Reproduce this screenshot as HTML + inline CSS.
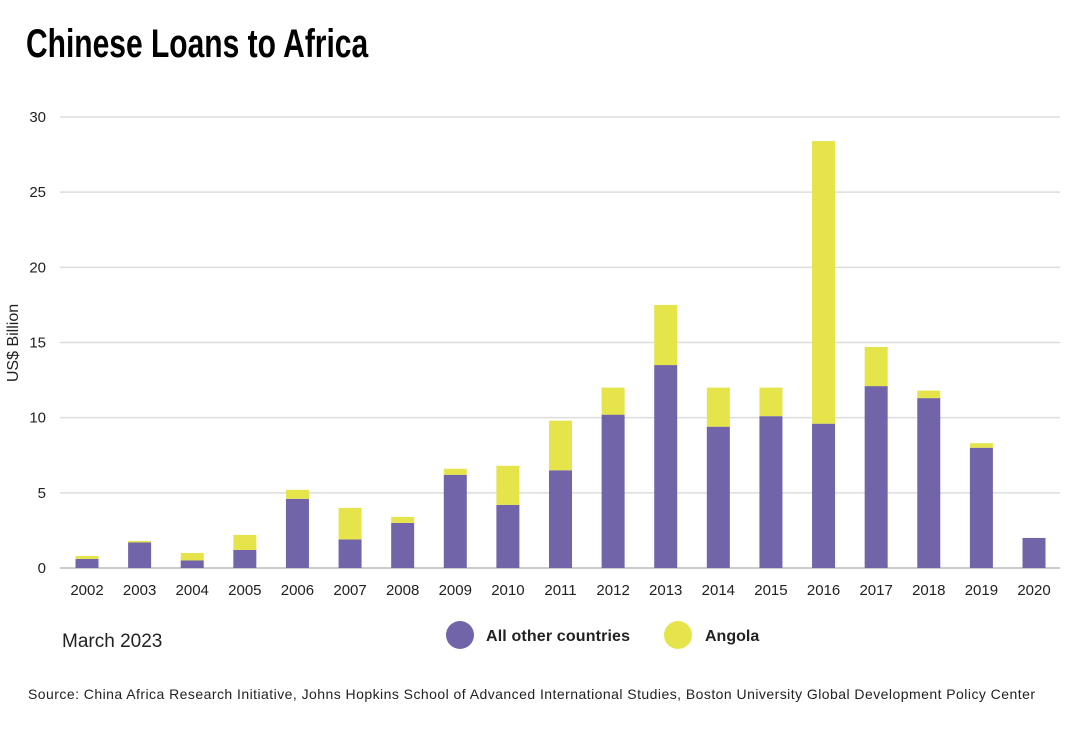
<!DOCTYPE html>
<html><head><meta charset="utf-8"><style>
body{margin:0;background:#fff;width:1080px;height:724px;overflow:hidden;font-family:"Liberation Sans",sans-serif}
svg text{font-family:"Liberation Sans",sans-serif}
</style></head><body>
<svg id="chart" width="1080" height="724">
<text x="26" y="57" font-size="40" font-weight="bold" fill="#000" transform="translate(26,0) scale(0.75,1) translate(-26,0)">Chinese Loans to Africa</text>
<g id="grid"></g><g id="bars"></g><g id="xlabels"></g>
<text transform="translate(18,343) rotate(-90)" text-anchor="middle" font-size="16" fill="#222">US$ Billion</text>
<text x="62" y="647" font-size="19" fill="#222">March 2023</text>
<g>
<circle cx="460" cy="635" r="14" fill="#7264a8"/>
<text x="486" y="641" font-size="16" font-weight="bold" fill="#222" textLength="144">All other countries</text>
<circle cx="678" cy="635" r="14" fill="#e5e44a"/>
<text x="705" y="641" font-size="16" font-weight="bold" fill="#222">Angola</text>
</g>
<text x="28" y="699" font-size="14" fill="#222" textLength="1007">Source: China Africa Research Initiative, Johns Hopkins School of Advanced International Studies, Boston University Global Development Policy Center</text>
</svg>
<script>
const years=["2002","2003","2004","2005","2006","2007","2008","2009","2010","2011","2012","2013","2014","2015","2016","2017","2018","2019","2020"];
const otherValues=[0.6,1.7,0.5,1.2,4.6,1.9,3.0,6.2,4.2,6.5,10.2,13.5,9.4,10.1,9.6,12.1,11.3,8.0,2.0];
const angolaValues=[0.2,0.1,0.5,1.0,0.6,2.1,0.4,0.4,2.6,3.3,1.8,4.0,2.6,1.9,18.8,2.6,0.5,0.3,0];
const yTicks=[0,5,10,15,20,25,30];
const NS="http://www.w3.org/2000/svg";
const y=v=>568-v*(451/30);
const x=i=>87+i*(947/18);
const bw=23;
function mk(tag,attrs,parent){const e=document.createElementNS(NS,tag);for(const k in attrs)e.setAttribute(k,attrs[k]);parent.appendChild(e);return e;}
const grid=document.getElementById('grid'),bars=document.getElementById('bars'),xl=document.getElementById('xlabels');
yTicks.forEach(t=>{
 const l=mk('line',{x1:60,x2:1060,y1:y(t),y2:y(t),stroke:t===0?'#bbb':'#ddd','stroke-width':1.5},grid);
 
 
 const tx=mk('text',{x:46,y:y(t)+5,'text-anchor':'end','font-size':15,fill:'#222'},grid);
 tx.textContent=t;
 
 
});
years.forEach((yr,i)=>{
 const o=otherValues[i],a=angolaValues[i];
 const b1=mk('rect',{x:x(i)-bw/2,y:y(o),width:bw,height:y(0)-y(o),fill:'#7264a8'},bars);
 
 
 if(a>0){const b2=mk('rect',{x:x(i)-bw/2,y:y(o+a),width:bw,height:y(o)-y(o+a),fill:'#e5e44a'},bars);
 
 }
 const t=mk('text',{x:x(i),y:595,'text-anchor':'middle','font-size':15,fill:'#222'},xl);
 t.textContent=yr;
 
 
});
</script>
</body></html>
